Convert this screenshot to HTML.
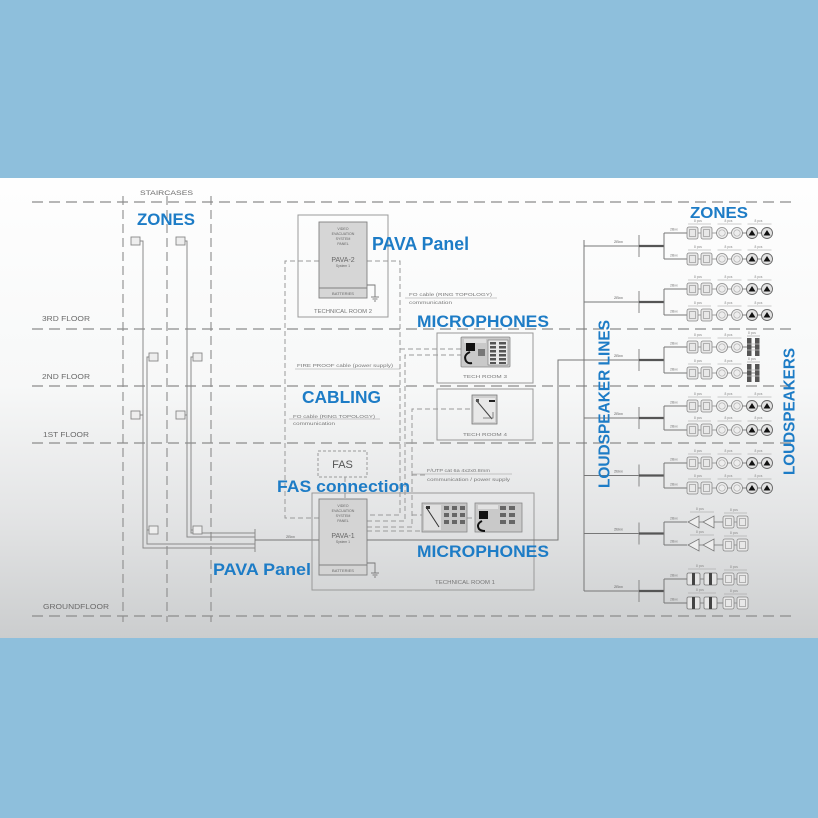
<!DOCTYPE html>
<html><head><meta charset="utf-8">
<style>
html,body{margin:0;padding:0;width:818px;height:818px;overflow:hidden;background:#8ebfdc}
svg{display:block}
</style></head><body>
<svg width="818" height="818" viewBox="0 0 818 818" xmlns="http://www.w3.org/2000/svg" font-family="'Liberation Sans', sans-serif">
<defs>
<linearGradient id="bg" x1="0" y1="0" x2="0" y2="1">
<stop offset="0" stop-color="#fefefe"/>
<stop offset="0.45" stop-color="#f7f8f8"/>
<stop offset="0.75" stop-color="#e2e3e4"/>
<stop offset="1" stop-color="#cbcdce"/>
</linearGradient>

<g id="head">
 <line x1="0" y1="0" x2="23" y2="0" stroke="#777" stroke-width="1"/>
 <text x="6" y="-2.5" font-size="3.5" fill="#777">2Bxx</text>
</g>
<g id="sq2">
 <rect x="0" y="-6" width="11" height="12" rx="2" fill="#e8e8e8" stroke="#888" stroke-width="0.8"/>
 <rect x="2.5" y="-3.5" width="6" height="7" fill="none" stroke="#999" stroke-width="0.7"/>
 <line x1="11" y1="0" x2="14" y2="0" stroke="#888" stroke-width="0.8"/>
 <rect x="14" y="-6" width="11" height="12" rx="2" fill="#e8e8e8" stroke="#888" stroke-width="0.8"/>
 <rect x="16.5" y="-3.5" width="6" height="7" fill="none" stroke="#999" stroke-width="0.7"/>
 <line x1="1" y1="-9" x2="24" y2="-9" stroke="#999" stroke-width="0.6"/>
 <text x="7" y="-11" font-size="3.3" fill="#888">8 pcs</text>
</g>
<g id="circ2">
 <line x1="-4" y1="0" x2="0" y2="0" stroke="#888" stroke-width="0.8"/>
 <circle cx="5.5" cy="0" r="5.5" fill="#ededed" stroke="#888" stroke-width="0.8"/>
 <circle cx="5.5" cy="0" r="3.2" fill="none" stroke="#aaa" stroke-width="0.6"/>
 <line x1="11" y1="0" x2="15" y2="0" stroke="#888" stroke-width="0.8"/>
 <circle cx="20.5" cy="0" r="5.5" fill="#ededed" stroke="#888" stroke-width="0.8"/>
 <circle cx="20.5" cy="0" r="3.2" fill="none" stroke="#aaa" stroke-width="0.6"/>
 <line x1="1" y1="-9" x2="25" y2="-9" stroke="#999" stroke-width="0.6"/>
 <text x="8" y="-11" font-size="3.3" fill="#888">8 pcs</text>
</g>
<g id="fill2">
 <line x1="-4" y1="0" x2="0" y2="0" stroke="#666" stroke-width="0.8"/>
 <circle cx="5.5" cy="0" r="5.5" fill="#e2e2e2" stroke="#666" stroke-width="0.9"/>
 <path d="M2 2.5 L5.5 -3 L9 2.5 Z" fill="#111"/>
 <line x1="11" y1="0" x2="15" y2="0" stroke="#666" stroke-width="0.8"/>
 <circle cx="20.5" cy="0" r="5.5" fill="#e2e2e2" stroke="#666" stroke-width="0.9"/>
 <path d="M17 2.5 L20.5 -3 L24 2.5 Z" fill="#111"/>
 <line x1="1" y1="-9" x2="25" y2="-9" stroke="#999" stroke-width="0.6"/>
 <text x="8" y="-11" font-size="3.3" fill="#888">8 pcs</text>
</g>
<g id="rowStd">
 <use href="#head"/>
 <use href="#sq2" x="23"/>
 <use href="#circ2" x="52.5"/>
 <use href="#fill2" x="82.5"/>
</g>
<g id="rowCol">
 <use href="#head"/>
 <use href="#sq2" x="23"/>
 <use href="#circ2" x="52.5"/>
 <line x1="78.5" y1="0" x2="83" y2="0" stroke="#666" stroke-width="0.8"/>
 <rect x="83" y="-9" width="4.5" height="18" fill="#555"/>
 <rect x="91" y="-9" width="4.5" height="18" fill="#555"/>
 <line x1="83" y1="-3" x2="95.5" y2="-3" stroke="#bbb" stroke-width="0.8"/>
 <line x1="83" y1="3" x2="95.5" y2="3" stroke="#bbb" stroke-width="0.8"/>
 <line x1="87.5" y1="0" x2="91" y2="0" stroke="#666" stroke-width="0.8"/>
 <line x1="83" y1="-11" x2="96" y2="-11" stroke="#999" stroke-width="0.6"/>
 <text x="84" y="-13" font-size="3.3" fill="#888">8 pcs</text>
</g>
<g id="rowHorn">
 <use href="#head"/>
 <path d="M24 0 L35 -6 L35 6 Z" fill="#eee" stroke="#777" stroke-width="0.8"/>
 <line x1="35" y1="0" x2="39" y2="0" stroke="#777" stroke-width="0.8"/>
 <path d="M39 0 L50 -6 L50 6 Z" fill="#eee" stroke="#777" stroke-width="0.8"/>
 <line x1="50" y1="0" x2="59" y2="0" stroke="#777" stroke-width="0.8"/>
 <line x1="26" y1="-10" x2="50" y2="-10" stroke="#999" stroke-width="0.6"/>
 <text x="32" y="-12" font-size="3.3" fill="#888">8 pcs</text>
 <use href="#sq2" x="59"/>
</g>
<g id="rowRect">
 <use href="#head"/>
 <rect x="23" y="-6" width="13" height="12" rx="1.5" fill="#e6e6e6" stroke="#777" stroke-width="0.8"/>
 <rect x="28" y="-6" width="3" height="12" fill="#444"/>
 <line x1="36" y1="0" x2="40" y2="0" stroke="#777" stroke-width="0.8"/>
 <rect x="40" y="-6" width="13" height="12" rx="1.5" fill="#e6e6e6" stroke="#777" stroke-width="0.8"/>
 <rect x="45" y="-6" width="3" height="12" fill="#444"/>
 <line x1="53" y1="0" x2="59" y2="0" stroke="#777" stroke-width="0.8"/>
 <line x1="24" y1="-10" x2="52" y2="-10" stroke="#999" stroke-width="0.6"/>
 <text x="32" y="-12" font-size="3.3" fill="#888">8 pcs</text>
 <use href="#sq2" x="59"/>
</g>
<g id="grp">
 <line x1="584" y1="0" x2="639" y2="0" stroke="#777" stroke-width="1"/>
 <text x="614" y="-3" font-size="4" fill="#666">2Bxx</text>
 <line x1="639" y1="-11" x2="639" y2="11" stroke="#888" stroke-width="1"/>
 <line x1="639" y1="0" x2="664" y2="0" stroke="#555" stroke-width="2.2"/>
</g>
</defs>

<rect width="818" height="818" fill="#8ebfdc"/>
<rect x="0" y="178" width="818" height="460" fill="url(#bg)"/>

<!-- floor lines -->
<g stroke="#8c8c8c" stroke-width="1.2" stroke-dasharray="11 6" fill="none">
<line x1="32" y1="202" x2="792" y2="202"/>
<line x1="32" y1="329" x2="792" y2="329"/>
<line x1="32" y1="386" x2="792" y2="386"/>
<line x1="32" y1="443" x2="792" y2="443"/>
<line x1="32" y1="616" x2="792" y2="616"/>
</g>
<!-- staircase verticals -->
<g stroke="#8c8c8c" stroke-width="1.1" stroke-dasharray="9 5" fill="none">
<line x1="123" y1="196" x2="123" y2="622"/>
<line x1="167" y1="196" x2="167" y2="622"/>
<line x1="211" y1="196" x2="211" y2="622"/>
</g>

<!-- floor labels -->
<g fill="#6a6a6a" font-size="7">
<text x="140" y="195" textLength="53" lengthAdjust="spacingAndGlyphs" font-size="6.5">STAIRCASES</text>
<text x="42" y="321" textLength="48" lengthAdjust="spacingAndGlyphs">3RD FLOOR</text>
<text x="42" y="379" textLength="48" lengthAdjust="spacingAndGlyphs">2ND FLOOR</text>
<text x="43" y="437" textLength="46" lengthAdjust="spacingAndGlyphs">1ST FLOOR</text>
<text x="43" y="609" textLength="66" lengthAdjust="spacingAndGlyphs">GROUNDFLOOR</text>
</g>

<!-- staircase cabling -->
<g stroke="#8a8a8a" stroke-width="1" fill="none">
<path d="M140 241 H143 V548 H255"/>
<path d="M149 357 H147 V544 H255"/>
<path d="M185 241 H187 V537 H255"/>
<path d="M193 357 H191 V533 H255"/>
<path d="M140 415 H143"/>
<path d="M185 415 H187"/>
<path d="M149 530 H147"/>
<path d="M193 530 H191"/>
<line x1="255" y1="529" x2="255" y2="552"/>
<line x1="255" y1="540" x2="319" y2="540" stroke="#777"/>
</g>
<text x="286" y="538" font-size="4" fill="#666">2Bxx</text>
<g fill="#eee" stroke="#888" stroke-width="0.9">
<rect x="131" y="237" width="9" height="8"/>
<rect x="176" y="237" width="9" height="8"/>
<rect x="149" y="353" width="9" height="8"/>
<rect x="193" y="353" width="9" height="8"/>
<rect x="131" y="411" width="9" height="8"/>
<rect x="176" y="411" width="9" height="8"/>
<rect x="149" y="526" width="9" height="8"/>
<rect x="193" y="526" width="9" height="8"/>
</g>

<!-- dashed cabling loop & feeds -->
<g stroke="#9a9a9a" stroke-width="1" stroke-dasharray="5 3" fill="none">
<path d="M319 261 H285 V518 H319"/>
<path d="M367 261 H400 V515 H367"/>
<path d="M400 349 H461"/>
<path d="M367 521 H405 V355 H461"/>
<path d="M367 527 H412 V409 H472"/>
<path d="M412 475 H427"/>
<path d="M367 531 H422"/>
<path d="M345 477 V499"/>
<path d="M412 515 H422"/>
<path d="M467 518 H475"/>
</g>

<!-- Technical room 2 -->
<rect x="298" y="215" width="90" height="102" fill="none" stroke="#9a9a9a" stroke-width="1"/>
<rect x="319" y="222" width="48" height="76" fill="#d6d6d6" stroke="#808080" stroke-width="0.9"/>
<line x1="319" y1="288" x2="367" y2="288" stroke="#808080" stroke-width="0.9"/>
<g fill="#666" text-anchor="middle" font-size="3.6">
<text x="343" y="230">VIDEO</text>
<text x="343" y="235">EVACUATION</text>
<text x="343" y="240">SYSTEM</text>
<text x="343" y="245">PANEL</text>
<text x="343" y="262" font-size="7">PAVA-2</text>
<text x="343" y="267" font-size="3.4">System 1</text>
<text x="343" y="295" font-size="4">BATTERIES</text>
<text x="343" y="313" font-size="5" fill="#777" textLength="58" lengthAdjust="spacingAndGlyphs">TECHNICAL ROOM 2</text>
</g>
<g stroke="#777" stroke-width="0.9" fill="none">
<path d="M367 285 H375 V297"/>
<line x1="371" y1="297" x2="379" y2="297"/>
<line x1="372.5" y1="299" x2="377.5" y2="299"/>
<line x1="374" y1="301" x2="376" y2="301"/>
</g>

<!-- small cable texts -->
<g fill="#777" font-size="4.5">
<line x1="405" y1="298" x2="497" y2="298" stroke="#999" stroke-width="0.6"/>
<text x="409" y="296" textLength="83" lengthAdjust="spacingAndGlyphs">FO cable (RING TOPOLOGY)</text>
<text x="409" y="304" textLength="43" lengthAdjust="spacingAndGlyphs">communication</text>
<line x1="295" y1="369" x2="400" y2="369" stroke="#999" stroke-width="0.6"/>
<text x="297" y="367" textLength="96" lengthAdjust="spacingAndGlyphs">FIRE PROOF cable (power supply)</text>
<line x1="289" y1="419" x2="380" y2="419" stroke="#999" stroke-width="0.6"/>
<text x="293" y="418" textLength="82" lengthAdjust="spacingAndGlyphs">FO cable (RING TOPOLOGY)</text>
<text x="293" y="425" textLength="42" lengthAdjust="spacingAndGlyphs">communication</text>
<line x1="412" y1="474" x2="512" y2="474" stroke="#999" stroke-width="0.6"/>
<text x="427" y="472" textLength="63" lengthAdjust="spacingAndGlyphs">F/UTP cat 6a 4x2x0.8mm</text>
<text x="427" y="481" textLength="83" lengthAdjust="spacingAndGlyphs">communication / power supply</text>
</g>

<!-- Tech room 3 -->
<rect x="437" y="333" width="96" height="50" fill="none" stroke="#999" stroke-width="1"/>
<rect x="461" y="337" width="49" height="30" rx="1" fill="#c9c9c9" stroke="#888" stroke-width="0.8"/>
<rect x="464" y="339" width="22" height="4" fill="#e0e0e0"/>
<rect x="466" y="343" width="9" height="8" fill="#111"/>
<path d="M470 352 q-7 3 -4 9 q2 3 6 2" stroke="#111" stroke-width="2" fill="none"/>
<rect x="478" y="349" width="7" height="7" fill="#777"/>
<rect x="488" y="340" width="20" height="25" fill="#e9e9e9" stroke="#777" stroke-width="0.6"/>
<g fill="#555">
<rect x="490" y="342" width="6" height="2.5"/><rect x="499" y="342" width="7" height="2.5"/>
<rect x="490" y="346" width="6" height="2.5"/><rect x="499" y="346" width="7" height="2.5"/>
<rect x="490" y="350" width="6" height="2.5"/><rect x="499" y="350" width="7" height="2.5"/>
<rect x="490" y="354" width="6" height="2.5"/><rect x="499" y="354" width="7" height="2.5"/>
<rect x="490" y="358" width="6" height="2.5"/><rect x="499" y="358" width="7" height="2.5"/>
<rect x="490" y="362" width="6" height="2"/><rect x="499" y="362" width="7" height="2"/>
</g>
<text x="485" y="378" font-size="4.5" fill="#777" text-anchor="middle" textLength="44" lengthAdjust="spacingAndGlyphs">TECH ROOM 3</text>

<!-- Tech room 4 -->
<rect x="437" y="389" width="96" height="51" fill="none" stroke="#999" stroke-width="1"/>
<rect x="472" y="395" width="25" height="29" fill="#cfcfcf" stroke="#777" stroke-width="0.8"/>
<rect x="474" y="398" width="21" height="24" fill="#e8e8e8"/>
<path d="M476 400 L492 419" stroke="#444" stroke-width="1" fill="none"/>
<rect x="489" y="400" width="6" height="2" fill="#222"/>
<rect x="476" y="399" width="3" height="3" fill="#555"/>
<path d="M483 418 L493 418 L493 412" stroke="#666" stroke-width="0.8" fill="none"/>
<text x="485" y="436" font-size="4.5" fill="#777" text-anchor="middle" textLength="44" lengthAdjust="spacingAndGlyphs">TECH ROOM 4</text>

<!-- FAS -->
<rect x="318" y="451" width="49" height="26" fill="none" stroke="#999" stroke-width="1" stroke-dasharray="3 2"/>
<text x="342.5" y="468" font-size="11" fill="#555" text-anchor="middle">FAS</text>

<!-- Technical room 1 -->
<rect x="312" y="493" width="222" height="97" fill="none" stroke="#999" stroke-width="1"/>
<rect x="319" y="499" width="48" height="76" fill="#d4d4d4" stroke="#808080" stroke-width="0.9"/>
<line x1="319" y1="565" x2="367" y2="565" stroke="#808080" stroke-width="0.9"/>
<g fill="#666" text-anchor="middle" font-size="3.6">
<text x="343" y="507">VIDEO</text>
<text x="343" y="512">EVACUATION</text>
<text x="343" y="517">SYSTEM</text>
<text x="343" y="522">PANEL</text>
<text x="343" y="538" font-size="7">PAVA-1</text>
<text x="343" y="543" font-size="3.4">System 1</text>
<text x="343" y="572" font-size="4">BATTERIES</text>
<text x="465" y="584" font-size="5" fill="#777" textLength="60" lengthAdjust="spacingAndGlyphs">TECHNICAL ROOM 1</text>
</g>
<g stroke="#777" stroke-width="0.9" fill="none">
<path d="M367 563 H375 V573"/>
<line x1="371" y1="573" x2="379" y2="573"/>
<line x1="372.5" y1="575" x2="377.5" y2="575"/>
<line x1="374" y1="577" x2="376" y2="577"/>
</g>
<!-- mic icons tech room 1 -->
<rect x="422" y="503" width="45" height="29" fill="#c6c6c6" stroke="#888" stroke-width="0.8"/>
<rect x="424" y="505" width="17" height="25" fill="#e0e0e0"/>
<path d="M426 507 L439 527" stroke="#333" stroke-width="1"/>
<rect x="426" y="506" width="4" height="3" fill="#333"/>
<g fill="#666">
<rect x="444" y="506" width="5" height="4"/><rect x="452" y="506" width="5" height="4"/><rect x="460" y="506" width="5" height="4"/>
<rect x="444" y="513" width="5" height="4"/><rect x="452" y="513" width="5" height="4"/><rect x="460" y="513" width="5" height="4"/>
<rect x="444" y="520" width="5" height="4"/><rect x="452" y="520" width="5" height="4"/><rect x="460" y="520" width="5" height="4"/>
</g>
<rect x="475" y="503" width="47" height="29" fill="#c9c9c9" stroke="#888" stroke-width="0.8"/>
<rect x="478" y="505" width="20" height="4" fill="#e2e2e2"/>
<rect x="479" y="511" width="9" height="8" fill="#111"/>
<path d="M482 521 q-6 3 -3 8 q2 2 6 2" stroke="#111" stroke-width="2" fill="none"/>
<g fill="#666">
<rect x="500" y="506" width="6" height="4"/><rect x="509" y="506" width="6" height="4"/>
<rect x="500" y="513" width="6" height="4"/><rect x="509" y="513" width="6" height="4"/>
<rect x="500" y="520" width="6" height="4"/><rect x="509" y="520" width="6" height="4"/>
</g>

<!-- main line to loudspeaker bus -->
<path d="M367 540 H558 V360 H584" stroke="#777" stroke-width="1" fill="none"/>
<line x1="584" y1="240" x2="584" y2="591" stroke="#777" stroke-width="1"/>

<!-- loudspeaker groups -->
<use href="#grp" y="246"/>
<use href="#grp" y="302"/>
<use href="#grp" y="360"/>
<use href="#grp" y="418"/>
<use href="#grp" y="475.5"/>
<use href="#grp" y="533.5"/>
<use href="#grp" y="591"/>
<g stroke="#777" stroke-width="1">
<line x1="664" y1="233" x2="664" y2="259"/>
<line x1="664" y1="289" x2="664" y2="315"/>
<line x1="664" y1="347" x2="664" y2="373"/>
<line x1="664" y1="406" x2="664" y2="430"/>
<line x1="664" y1="463" x2="664" y2="488"/>
<line x1="664" y1="522" x2="664" y2="545"/>
<line x1="664" y1="579" x2="664" y2="603"/>
</g>
<use href="#rowStd" x="664" y="233"/>
<use href="#rowStd" x="664" y="259"/>
<use href="#rowStd" x="664" y="289"/>
<use href="#rowStd" x="664" y="315"/>
<use href="#rowCol" x="664" y="347"/>
<use href="#rowCol" x="664" y="373"/>
<use href="#rowStd" x="664" y="406"/>
<use href="#rowStd" x="664" y="430"/>
<use href="#rowStd" x="664" y="463"/>
<use href="#rowStd" x="664" y="488"/>
<use href="#rowHorn" x="664" y="522"/>
<use href="#rowHorn" x="664" y="545"/>
<use href="#rowRect" x="664" y="579"/>
<use href="#rowRect" x="664" y="603"/>

<!-- blue labels -->
<g fill="#1d7cc6" font-weight="bold">
<text x="137" y="225" font-size="17" textLength="58" lengthAdjust="spacingAndGlyphs">ZONES</text>
<text x="372" y="250" font-size="18" textLength="97" lengthAdjust="spacingAndGlyphs">PAVA Panel</text>
<text x="417" y="327" font-size="17" textLength="132" lengthAdjust="spacingAndGlyphs">MICROPHONES</text>
<text x="302" y="403" font-size="17.5" textLength="79" lengthAdjust="spacingAndGlyphs">CABLING</text>
<text x="277" y="492" font-size="17" textLength="133" lengthAdjust="spacingAndGlyphs">FAS connection</text>
<text x="213" y="575" font-size="17" textLength="98" lengthAdjust="spacingAndGlyphs">PAVA Panel</text>
<text x="417" y="557" font-size="17" textLength="132" lengthAdjust="spacingAndGlyphs">MICROPHONES</text>
<text x="690" y="218" font-size="16" textLength="58" lengthAdjust="spacingAndGlyphs">ZONES</text>
<text transform="translate(609.5,404) rotate(-90)" text-anchor="middle" font-size="15.5" textLength="168" lengthAdjust="spacingAndGlyphs">LOUDSPEAKER LINES</text>
<text transform="translate(794.5,411.5) rotate(-90)" text-anchor="middle" font-size="15.5" textLength="127" lengthAdjust="spacingAndGlyphs">LOUDSPEAKERS</text>
</g>
</svg>
</body></html>
